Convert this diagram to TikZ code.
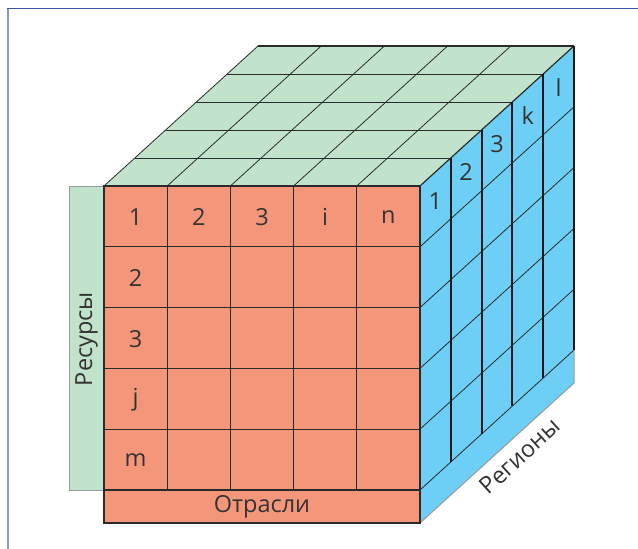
\documentclass[tikz,border=0pt]{standalone}
\usepackage{fontspec}
\setmainfont{Open Sans}
\definecolor{salmon}{HTML}{F4967A}
\definecolor{sky}{HTML}{6DCFF6}
\definecolor{mint}{HTML}{C1E2CB}
\definecolor{ink}{HTML}{2A2A2A}
\definecolor{txt}{HTML}{333333}
\definecolor{edgegray}{HTML}{9A9A9A}
\definecolor{frametop}{HTML}{3A55A4}
\definecolor{frameleft}{HTML}{8797CF}
\begin{document}
\begin{tikzpicture}[x=1pt,y=-1pt,
  lab/.style={font=\fontsize{23.5}{27}\selectfont, text=txt, inner sep=0pt},
  gridline/.style={draw=ink, line width=1.1pt},
  thinline/.style={draw=ink, line width=0.8pt},
  thickline/.style={draw=black!90, line width=2pt},
  grayline/.style={draw=edgegray, line width=1pt}]
\useasboundingbox (0,0) rectangle (638,549);
% frame
\draw[frameleft, line width=2pt] (7.5,549) -- (7.5,8.5);
\draw[frametop, line width=1.5pt] (6.5,8.5) -- (638,8.5);
% green strip
\fill[mint] (69,186) rectangle (104,490);
\draw[grayline] (104,186) -- (69,186) -- (69,490) -- (104,490);
% top face
\fill[mint] (104,186) -- (420,186) -- (574,46) -- (258,46) -- cycle;
\foreach \k in {1,...,4}
  \draw[thinline] ({104+30.8*\k},{186-28*\k}) -- ({420+30.8*\k},{186-28*\k});
\foreach \i in {0,...,5}
  \draw[thinline] ({104+63.2*\i},186) -- ({258+63.2*\i},46);
\draw[gridline] (258,46) -- (574,46);
% right face
\fill[sky] (420,186) -- (574,46) -- (574,383) -- (420,523) -- cycle;
\foreach \j in {1,...,5}
  \draw[thinline] (420,{186+60.8*\j}) -- (574,{46+60.8*\j});
\draw[gridline] (420,186) -- (574,46);
\foreach \k in {1,...,5}
  \draw[thickline] ({420+30.8*\k},{186-28*\k}) -- ({420+30.8*\k},{490-28*\k});
\draw[grayline] (574,350) -- (574,383) -- (420,523);
% front face
\fill[salmon] (104,186) rectangle (420,523);
\foreach \i in {1,...,4}
  \draw[gridline] ({104+63.2*\i},186) -- ({104+63.2*\i},490);
\foreach \j in {1,...,5}
  \draw[gridline] (104,{186+60.8*\j}) -- (420,{186+60.8*\j});
\draw[gridline] (104,186) rectangle (420,523);
% front labels
\node[lab] (c1) at (135.6,217) {1};
\node[lab] (c2) at (198.8,217) {2};
\node[lab] (c3) at (262,217) {3};
\node[lab] (ci) at (325.2,217) {i};
\node[lab] (cn) at (388.4,217) {n};
\node[lab] (r2) at (135.6,278) {2};
\node[lab] (r3) at (135.6,339) {3};
\node[lab] (rj) at (135.6,400) {j};
\node[lab] (rm) at (135.6,460) {m};
\node[lab] (otr) at (262,506.5) {Отрасли};
\node[lab, rotate=90] (res) at (86.5,339) {Ресурсы};
\node[lab, rotate=42.3] (reg) at (520,456) {Регионы};
% right face labels
\node[lab] (s1) at (435.4,201) {1};
\node[lab] (s2) at (466.2,172) {2};
\node[lab] (s3) at (497,144) {3};
\node[lab] (sk) at (527.8,116) {k};
\node[lab] (sl) at (558.6,88) {l};
\end{tikzpicture}
\end{document}
